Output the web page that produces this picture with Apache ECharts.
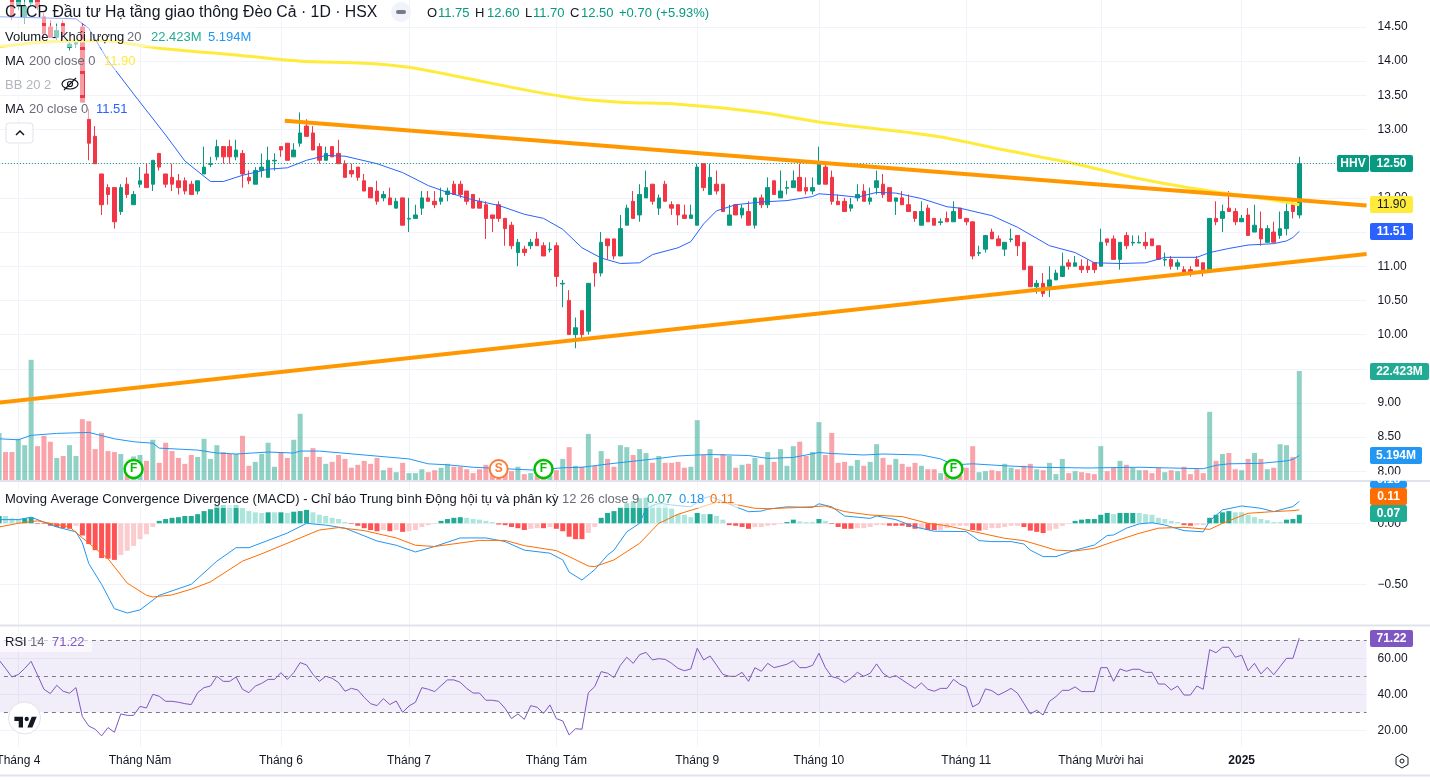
<!DOCTYPE html>
<html><head><meta charset="utf-8">
<style>html,body{margin:0;padding:0;background:#fff}#c{width:1430px;height:780px}</style>
<script src="https://cdn.jsdelivr.net/npm/echarts@6/dist/echarts.min.js"></script>
</head><body><div id="c"></div>
<script>
const opens=[14.95,15.05,15.0,14.8,14.65,14.85,15.0,14.65,14.5,14.35,14.55,14.2,14.25,14.5,13.15,12.9,12.35,12.15,12.15,11.8,12.2,11.9,12.2,12.35,12.2,12.65,12.35,12.3,12.25,12.25,12.2,12.1,12.35,12.49,12.6,12.75,12.75,12.6,12.65,12.3,12.2,12.4,12.3,12.54,12.75,12.8,12.6,12.8,13.05,12.95,12.75,12.55,12.75,12.65,12.5,12.4,12.45,12.25,12.15,12.1,12.0,12.0,11.85,12.0,11.69,11.7,11.85,12.0,11.95,11.95,12.05,12.2,12.2,12.1,12.05,11.95,11.9,11.75,11.9,11.7,11.6,11.2,11.25,11.3,11.4,11.3,11.24,11.3,10.74,10.5,10.0,10.35,10.05,11.05,10.9,11.4,11.4,11.15,11.6,11.95,11.75,12.0,12.2,11.85,12.2,11.9,11.9,11.75,11.7,11.6,12.5,12.05,12.2,12.2,11.6,11.9,11.75,11.8,11.6,12.0,11.9,12.25,12.0,12.14,12.15,12.3,12.15,12.1,12.2,12.45,12.3,11.95,11.95,11.85,12.0,12.1,11.95,12.15,12.2,12.15,11.95,12.0,11.9,11.8,11.6,11.85,11.7,11.64,11.7,11.65,11.85,11.7,11.65,11.19,11.25,11.5,11.4,11.25,11.39,11.45,11.35,11.0,10.7,10.75,10.7,10.8,10.85,11.05,11.0,11.0,11.0,11.05,11.0,11.4,11.4,11.1,11.45,11.34,11.34,11.35,11.4,11.3,11.09,11.1,11.0,10.95,10.95,11.1,11.05,10.95,11.7,11.7,11.85,11.8,11.65,11.75,11.5,11.55,11.35,11.5,11.45,11.55,11.9,11.75];
const closes=[15.05,14.95,14.65,14.9,14.8,15.0,14.8,14.4,14.35,14.45,14.4,14.25,14.3,13.4,12.8,12.5,11.9,12.05,11.65,12.15,12.05,12.05,12.25,12.15,12.55,12.45,12.2,12.2,12.15,12.1,12.05,12.25,12.45,12.5,12.75,12.6,12.6,12.7,12.35,12.25,12.4,12.45,12.55,12.55,12.7,12.55,12.7,12.95,12.9,12.7,12.55,12.65,12.6,12.5,12.3,12.35,12.3,12.1,12.0,11.95,12.05,11.9,11.95,11.6,11.7,11.75,12.0,11.95,11.9,12.0,12.1,12.05,12.05,11.95,11.85,11.85,11.7,11.7,11.7,11.55,11.3,11.35,11.2,11.35,11.3,11.15,11.25,10.85,10.75,10.0,10.1,10.0,10.75,10.9,11.35,11.3,11.15,11.55,11.85,11.7,12.05,12.15,11.95,12.0,11.95,11.85,11.75,11.7,11.75,12.45,12.15,12.3,12.1,11.8,11.75,11.75,11.85,11.6,12.0,11.9,12.15,12.05,12.1,12.15,12.25,12.1,12.1,12.15,12.5,12.2,11.95,11.9,11.8,11.9,12.05,11.95,12.0,12.25,12.05,11.95,12.0,11.9,11.8,11.7,11.8,11.65,11.6,11.65,11.65,11.8,11.7,11.65,11.15,11.2,11.45,11.4,11.3,11.35,11.4,11.3,10.95,10.7,10.75,10.6,10.8,10.9,11.0,11.0,11.05,10.95,10.95,10.95,11.35,11.35,11.1,11.35,11.3,11.35,11.35,11.3,11.3,11.1,11.1,11.0,11.05,10.9,10.9,11.0,10.95,11.7,11.65,11.8,11.8,11.65,11.7,11.45,11.6,11.4,11.55,11.35,11.55,11.8,11.8,12.5];
const highs=[15.1,15.1,15.05,15.0,15.0,15.05,15.05,14.7,14.6,14.55,14.6,14.3,14.3,14.55,13.3,13.05,12.35,12.2,12.15,12.2,12.3,12.1,12.45,12.5,12.55,12.65,12.35,12.5,12.35,12.3,12.25,12.25,12.75,12.6,12.85,12.75,12.85,12.85,12.7,12.4,12.45,12.65,12.75,12.65,12.75,12.8,12.8,13.25,13.15,13.05,12.8,12.75,12.75,12.85,12.55,12.5,12.45,12.35,12.15,12.25,12.1,12.15,12.0,12.0,12.0,11.9,12.1,12.1,12.1,12.15,12.15,12.25,12.25,12.1,12.05,12.0,11.95,11.75,11.95,11.7,11.65,11.4,11.3,11.4,11.5,11.35,11.35,11.35,10.8,10.65,10.25,10.35,10.75,11.05,11.5,11.4,11.4,11.75,11.9,12.1,12.2,12.4,12.2,12.05,12.25,11.95,11.9,11.9,11.9,12.5,12.5,12.5,12.4,12.2,11.9,11.9,11.9,11.95,12.0,12.05,12.3,12.25,12.4,12.25,12.4,12.5,12.3,12.3,12.75,12.5,12.4,12.05,12.0,12.0,12.2,12.2,12.15,12.4,12.35,12.15,12.0,12.1,12.05,11.8,11.95,11.9,11.7,11.7,11.8,11.95,11.85,11.7,11.65,11.3,11.45,11.55,11.45,11.35,11.55,11.45,11.35,11.0,10.8,10.9,11.0,10.95,11.2,11.1,11.15,11.1,11.1,11.05,11.55,11.4,11.45,11.35,11.5,11.45,11.45,11.5,11.4,11.3,11.2,11.15,11.1,11.0,11.0,11.15,11.05,11.7,11.95,11.9,12.1,11.85,11.75,11.85,11.9,11.8,11.6,11.65,11.8,11.95,11.95,12.6];
const lows=[14.9,14.9,14.6,14.75,14.55,14.8,14.75,14.35,14.35,14.3,14.3,14.15,14.2,13.4,12.55,12.5,11.75,11.9,11.55,11.75,12.0,11.9,12.15,12.15,12.1,12.4,12.15,12.1,12.05,12.05,12.05,12.05,12.35,12.45,12.55,12.5,12.5,12.55,12.15,12.2,12.2,12.3,12.3,12.4,12.6,12.55,12.6,12.75,12.9,12.7,12.5,12.55,12.6,12.5,12.3,12.3,12.25,12.1,12.0,11.9,11.95,11.9,11.85,11.6,11.5,11.7,11.75,11.95,11.85,11.9,11.95,12.05,12.0,11.9,11.85,11.85,11.4,11.5,11.65,11.3,11.25,11.0,11.15,11.25,11.3,11.15,11.2,10.7,10.4,10.0,9.8,9.95,10.0,10.7,10.85,11.1,11.1,11.15,11.6,11.7,11.65,12.0,11.9,11.75,11.95,11.75,11.6,11.7,11.7,11.6,12.1,12.05,12.05,11.8,11.6,11.75,11.7,11.6,11.55,11.85,11.85,12.05,12.0,12.05,12.15,12.1,12.05,12.05,12.2,12.2,11.9,11.9,11.8,11.8,11.95,11.95,11.9,12.05,12.0,11.95,11.75,11.9,11.8,11.65,11.6,11.65,11.6,11.6,11.65,11.65,11.7,11.6,11.1,11.15,11.2,11.4,11.3,11.15,11.35,11.15,10.95,10.7,10.6,10.55,10.55,10.8,10.85,10.95,11.0,10.9,10.9,10.9,11.0,11.3,11.1,10.95,11.25,11.3,11.35,11.25,11.3,11.1,11.0,10.95,10.95,10.9,10.85,11.0,10.85,10.95,11.6,11.5,11.8,11.6,11.65,11.45,11.5,11.3,11.35,11.35,11.4,11.45,11.7,11.7];
const volumes=[9.8,5.9,5.9,8.6,7.3,24.7,7.1,9.2,8.0,4.7,5.1,7.3,5.1,12.6,12.2,6.5,9.8,6.1,5.9,5.5,2.6,5.0,5.3,4.1,8.4,3.7,7.8,6.1,4.7,3.5,5.3,4.9,8.6,4.5,7.3,5.9,5.5,5.5,9.2,3.1,3.9,5.5,7.8,2.9,5.9,4.7,8.4,13.7,4.9,6.7,4.9,3.5,3.9,5.3,4.5,2.7,3.3,4.1,3.5,4.7,2.2,2.7,1.8,3.7,1.6,1.6,2.4,1.8,2.2,2.7,3.5,2.9,2.9,2.4,1.6,2.4,3.3,2.2,1.9,2.2,2.0,2.9,1.4,1.6,1.2,1.2,1.2,2.2,4.5,6.9,3.1,2.9,9.6,3.1,6.1,4.5,2.9,7.3,6.9,5.3,6.5,5.7,3.7,5.1,3.7,3.7,3.9,2.7,2.9,12.4,5.3,6.5,4.7,5.5,5.1,2.7,3.3,3.5,4.7,3.3,5.9,3.9,6.5,3.1,7.1,8.0,5.1,5.9,12.0,5.3,9.8,3.7,3.9,3.1,4.3,3.1,3.9,7.5,4.7,3.3,4.5,3.5,2.9,3.7,3.1,2.4,2.4,1.6,2.4,1.2,1.2,2.7,7.1,1.8,2.0,2.2,2.0,3.5,2.7,2.4,3.1,3.5,2.4,2.2,3.7,1.4,4.5,1.6,2.0,1.8,1.6,1.4,7.1,2.0,2.7,4.1,3.3,2.7,2.2,2.2,1.6,2.7,1.8,2.2,2.0,2.9,1.4,2.4,1.6,14.1,4.1,5.5,5.7,2.4,2.2,4.5,5.7,4.5,2.4,2.7,7.5,7.3,4.9,22.423];
const hist=[.06,.06,.04,.035,.04,.05,-.005,-.005,-.02,-.03,-.04,-.045,-.02,-.10,-.17,-.22,-.285,-.29,-.30,-.26,-.225,-.185,-.13,-.09,-.03,.02,.035,.045,.05,.06,.06,.075,.10,.115,.145,.15,.15,.15,.125,.10,.09,.085,.09,.09,.09,.085,.095,.10,.11,.09,.07,.06,.045,.035,.01,-.005,-.02,-.04,-.055,-.065,-.055,-.065,-.055,-.07,-.065,-.055,-.03,-.015,-.005,.02,.035,.045,.05,.045,.035,.03,.02,.01,-.01,-.015,-.03,-.04,-.055,-.045,-.04,-.04,-.03,-.045,-.065,-.11,-.13,-.13,-.08,-.03,.045,.085,.10,.13,.165,.18,.205,.21,.16,.16,.15,.12,.075,.07,.05,.085,.075,.075,.06,.03,-.015,-.02,-.03,-.045,-.03,-.03,-.02,-.015,-.005,.01,.03,.015,.01,.01,.035,.02,-.005,-.03,-.045,-.045,-.04,-.04,-.03,-.015,-.015,-.02,-.02,-.02,-.03,-.045,-.045,-.055,-.055,-.055,-.04,-.02,-.02,-.02,-.055,-.06,-.055,-.04,-.04,-.03,-.02,-.02,-.03,-.06,-.07,-.08,-.06,-.045,-.02,-.005,.02,.03,.035,.035,.07,.085,.075,.085,.085,.085,.085,.075,.07,.045,.035,.02,.01,-.015,-.02,-.015,-.015,.045,.07,.09,.10,.09,.09,.07,.05,.035,.025,.01,.01,.03,.035,.07];
const histLightRuns=[[1,3],[12,12],[19,24],[36,36],[38,41],[43,43],[45,45],[49,54],[60,60],[62,62],[64,68],[73,77],[83,84],[86,86],[92,93],[102,108],[110,110],[112,113],[118,122],[125,127],[129,129],[134,138],[144,144],[147,151],[154,159],[164,167],[174,174],[178,184],[187,188],[193,200]];
const rsi=[59,54.4,49.6,51,54.4,58.3,50.7,42.8,40.4,45,41.7,40.6,43.7,27.6,22.4,20.6,16.9,21.5,18.9,29.1,28.3,28.3,33.3,32.4,40,38.9,36.1,36.1,35.6,34.8,34.3,40.9,43.7,44.6,50,47.2,47.2,49.6,42.8,40.9,44.6,46.1,48.3,48.3,52,48.3,52,57.6,56.3,51.1,47.2,50,48.9,46.5,41.7,43.3,42.4,38.3,34.8,33.7,37.6,34.3,36.3,30,33.5,35.6,43.7,42.8,41.5,44.8,48,48,46.7,43.3,40.7,40.7,36.7,36.7,36.1,32.2,26.5,29.1,26.1,33.7,32.8,29.4,34.1,26.5,25.2,17.4,20.9,20.6,40.9,44.3,52.6,51.7,49.3,56.1,60.6,57.2,62,63.3,59.1,59.8,59.4,57.2,54.4,53.1,54.1,65.6,59.1,61.3,56.3,51.1,50,50,52.2,47.2,54.8,52.8,57.2,54.8,55.7,56.7,58.7,54.8,54.8,56.1,62.8,54.8,49.8,48.9,46.5,48.9,52.2,50,51.7,56.9,51.7,49.3,50.4,48,45.6,43.3,46.3,42.8,41.7,43.3,43.3,48.3,45.6,43.9,33,35,43,42,39.6,41.3,43.3,40.6,35,29.1,31.1,28.5,36.1,38.7,42.2,42.2,44.1,41.5,41.5,41.5,54.8,54.8,47.2,54.1,52.8,53.9,53.9,52.2,52.2,45.7,45.7,42.4,44.6,39.6,39.6,44.6,42.8,64.8,63.1,66.1,66.1,60.6,61.7,53.1,57.2,51.3,55,50.9,55.4,60,60,71.22];
const ma200=[[0,14.21],[7,14.28],[16,14.30],[25,14.19],[37,14.09],[47,14.0],[57,13.97],[64,13.91],[73,13.75],[81,13.60],[89,13.47],[97,13.40],[106,13.37],[119,13.25],[128,13.11],[139,12.99],[147,12.89],[157,12.70],[168,12.50],[178,12.28],[189,12.10],[199,11.97],[203,11.90]];
const ma20=[[0,14.65],[12,14.62],[14,14.48],[17,14.01],[21,13.52],[26,12.92],[29,12.54],[33,12.24],[35,12.24],[38,12.33],[42,12.42],[45,12.44],[48,12.55],[51,12.62],[54,12.61],[59,12.5],[63,12.37],[67,12.18],[70,12.08],[74,11.97],[78,11.89],[82,11.76],[85,11.70],[88,11.54],[91,11.27],[94,11.12],[97,11.04],[100,11.05],[102,11.17],[106,11.27],[108,11.36],[110,11.62],[112,11.81],[115,11.90],[119,11.94],[123,11.96],[127,12.02],[128,12.06],[131,12.04],[134,12.01],[137,12.08],[140,12.07],[144,11.99],[148,11.87],[150,11.85],[155,11.74],[159,11.57],[164,11.30],[168,11.2],[171,11.05],[175,11.04],[179,11.05],[182,11.13],[187,11.13],[189,11.2],[192,11.26],[195,11.31],[199,11.33],[201,11.37],[202,11.42],[203,11.51]];
const volMa=[[0,8.6],[3,8.4],[5,9.3],[9,9.7],[14,9.9],[18,8.6],[21,8.0],[24,7.7],[25,6.7],[31,6.3],[34,5.7],[37,5.5],[42,5.9],[46,5.7],[47,6.1],[50,6.1],[57,5.3],[64,4.5],[67,3.5],[70,3.3],[74,2.8],[84,2.2],[88,2.7],[91,2.8],[96,3.6],[103,4.6],[106,5.1],[109,5.3],[111,5.4],[117,5.2],[120,4.6],[124,4.8],[128,5.8],[130,5.6],[135,5.3],[138,5.5],[144,5.3],[147,4.5],[149,3.3],[152,3.5],[157,3.1],[162,2.8],[170,2.65],[178,2.8],[188,2.5],[190,3.2],[192,3.5],[197,3.6],[201,4.1],[202,4.4],[203,5.194]];
const macdLine=[[0,.03],[3,.03],[5,.05],[7,.01],[9,-.03],[12,-.07],[13,-.16],[14,-.33],[16,-.5],[17,-.6],[18,-.70],[20,-.735],[22,-.71],[25,-.59],[30,-.5],[34,-.31],[37,-.2],[39,-.2],[44,-.1],[45,-.08],[48,0],[51,-.015],[54,-.04],[59,-.145],[62,-.18],[65,-.235],[68,-.19],[72,-.12],[76,-.12],[79,-.15],[82,-.22],[86,-.245],[88,-.30],[89,-.40],[91,-.465],[93,-.38],[95,-.26],[96,-.22],[98,-.07],[100,0],[101,.12],[103,.165],[105,.15],[108,.135],[110,.205],[111,.22],[113,.18],[115,.135],[117,.095],[119,.10],[120,.115],[123,.135],[127,.13],[128,.16],[130,.135],[132,.06],[136,.04],[137,.06],[140,.03],[143,-.03],[146,-.065],[151,-.068],[153,-.142],[155,-.15],[158,-.15],[160,-.17],[161,-.22],[163,-.273],[165,-.273],[168,-.22],[171,-.178],[173,-.10],[174,-.096],[176,-.04],[178,-.005],[180,.005],[182,-.014],[185,-.06],[188,-.07],[189,.02],[191,.11],[194,.142],[197,.123],[199,.096],[202,.137],[203,.18]];
const signalLine=[[0,-.03],[3,0],[6,.02],[11,-.03],[13,-.12],[17,-.29],[20,-.49],[23,-.59],[24,-.604],[27,-.587],[30,-.54],[33,-.48],[38,-.31],[41,-.25],[47,-.12],[50,-.055],[53,-.035],[57,-.06],[62,-.12],[65,-.18],[68,-.19],[75,-.14],[79,-.14],[82,-.183],[87,-.224],[89,-.273],[92,-.35],[93,-.355],[96,-.30],[100,-.164],[103,0],[106,.074],[109,.123],[112,.172],[114,.164],[118,.123],[120,.12],[125,.13],[129,.142],[132,.096],[136,.068],[141,.055],[145,0],[148,-.02],[151,-.055],[157,-.123],[160,-.142],[165,-.22],[168,-.227],[171,-.205],[174,-.15],[178,-.082],[181,-.04],[185,-.033],[189,-.05],[191,0],[195,.082],[199,.096],[202,.104],[203,.11]];
const trendUpper=[[44.6,13.13],[213.5,11.89]];
const trendLower=[[-0.5,9.0],[213.5,11.18]];
const flags=[[21,'F'],[78,'S'],[85,'F'],[149,'F']];
const monthTicks=[[3,'Tháng 4'],[22,'Tháng Năm'],[44,'Tháng 6'],[64,'Tháng 7'],[87,'Tháng Tám'],[109,'Tháng 9'],[128,'Tháng 10'],[151,'Tháng 11'],[172,'Tháng Mười hai'],[194,'2025']];
const priceTicks=[8,8.5,9,9.5,10,10.5,11,11.5,12,12.5,13,13.5,14,14.5];
const macdTicks=[-.5,0];
const rsiTicks=[20,40,60];
const categories=opens.map((_,i)=>String(i)).concat(Array.from({length:10},(_,i)=>'+'+(i+1)));
const UP='#089981',DOWN='#f23645',FONT='"Liberation Sans",Arial,sans-serif',GRID='#f0f3fa',TXT='#131722',GRAY='#6a6d78';
const L=-4.1,W=1370.67;
const monthVals=monthTicks.map(m=>m[0]);
const monthMap=Object.fromEntries(monthTicks);
const isLight=i=>histLightRuns.some(r=>i>=r[0]&&i<=r[1]);
function catAxis(g){return {type:'category',gridIndex:g,data:categories,show:false};}
function valAxis(g,labels){return {type:'value',gridIndex:g,min:-0.5,max:213.5,axisLine:{show:false},
  axisTick:{show:false,customValues:monthVals},splitLine:{show:true,lineStyle:{color:GRID,width:1}},
  axisLabel:labels?{show:true,customValues:monthVals,margin:8,color:TXT,fontFamily:FONT,fontSize:12,hideOverlap:false,
    formatter:v=>monthMap[v]==='2025'?'{b|2025}':monthMap[v],rich:{b:{fontWeight:'bold',fontFamily:FONT,fontSize:12,color:TXT}}}:{show:false}};}
function yAx(g,min,max,ticks,fmt){return {type:'value',gridIndex:g,position:'right',min,max,scale:true,axisLine:{show:false},
  axisTick:{show:false,customValues:ticks},splitLine:{show:true,lineStyle:{color:GRID,width:1}},
  axisLabel:{show:true,customValues:ticks,inside:false,margin:11,color:TXT,fontFamily:FONT,fontSize:12,formatter:fmt}};}
const f2=v=>{const s=Math.abs(v).toFixed(2);return v<0?'−'+s:s;};
const G=(top,height)=>({left:L,width:W,top,height,outerBoundsMode:'none',containLabel:false});
const option={animation:false,backgroundColor:'#fff',
 grid:[G(0,481),G(0,481),G(482,143),G(626,121)],
 xAxis:[catAxis(0),valAxis(0,false),catAxis(1),{type:'value',gridIndex:1,min:-0.5,max:213.5,show:false},catAxis(2),valAxis(2,false),valAxis(3,true)],
 yAxis:[yAx(0,14.5+(27-481)/68.35,14.5+27/68.35,priceTicks,f2),
        {type:'value',gridIndex:1,min:0,max:98.03,show:false},
        yAx(2,-(625-523.3)/122,(523.3-482)/122,macdTicks,f2),
        yAx(3,70-(747-640.3)/1.8,70+(640.3-626)/1.8,rsiTicks,f2)],
 series:[
  {type:'bar',name:'vol',xAxisIndex:2,yAxisIndex:1,barWidth:5,z:1,data:volumes,
   itemStyle:{color:p=>closes[p.dataIndex]>=opens[p.dataIndex]?'rgba(8,153,129,0.45)':'rgba(242,54,69,0.45)'}},
  {type:'line',name:'volMa',xAxisIndex:3,yAxisIndex:1,data:volMa,showSymbol:false,z:3,lineStyle:{color:'#2196f3',width:1}},
  {type:'candlestick',name:'price',xAxisIndex:0,yAxisIndex:0,barWidth:4,z:2,
   data:opens.map((o,i)=>[o,closes[i],lows[i],highs[i]]),
   itemStyle:{color:UP,color0:DOWN,borderColor:UP,borderColor0:DOWN,borderWidth:1},
   markLine:{silent:true,symbol:'none',label:{show:false},animation:false,lineStyle:{color:UP,type:[1,2],width:1},data:[{yAxis:closes[closes.length-1]}]}},
  {type:'line',name:'ma200',xAxisIndex:1,yAxisIndex:0,data:ma200,showSymbol:false,smooth:0.3,z:4,lineStyle:{color:'#ffeb3b',width:3}},
  {type:'line',name:'ma20',xAxisIndex:1,yAxisIndex:0,data:ma20,showSymbol:false,z:4,lineStyle:{color:'#2962ff',width:1}},
  {type:'line',name:'trendUpper',xAxisIndex:1,yAxisIndex:0,data:trendUpper,showSymbol:false,z:5,lineStyle:{color:'#ff9800',width:4}},
  {type:'line',name:'trendLower',xAxisIndex:1,yAxisIndex:0,data:trendLower,showSymbol:false,z:5,lineStyle:{color:'#ff9800',width:4}},
  {type:'scatter',name:'flags',xAxisIndex:3,yAxisIndex:1,z:6,symbolSize:18,
   data:flags.map(f=>({value:[f[0],2.45],name:f[1],
     itemStyle:{color:'#fff',borderColor:f[1]==='F'?'#00c000':'#ff7a33',borderWidth:f[1]==='F'?2.5:2,opacity:1},
     label:{show:true,formatter:f[1],position:'inside',color:f[1]==='F'?'#00c000':'#ff7a33',fontFamily:FONT,fontSize:12,fontWeight:'bold'}}))},
  {type:'bar',name:'hist',xAxisIndex:4,yAxisIndex:2,barWidth:5,z:1,data:hist,
   itemStyle:{color:p=>{const i=p.dataIndex,v=hist[i],l=isLight(i);return v>=0?(l?'#ace5dc':'#22ab94'):(l?'#fccbcd':'#ff5252');}}},
  {type:'line',name:'macd',xAxisIndex:5,yAxisIndex:2,data:macdLine,showSymbol:false,z:3,lineStyle:{color:'#2196f3',width:1}},
  {type:'line',name:'signal',xAxisIndex:5,yAxisIndex:2,data:signalLine,showSymbol:false,z:3,lineStyle:{color:'#ff6d00',width:1}},
  {type:'line',name:'rsi',xAxisIndex:6,yAxisIndex:3,data:rsi.map((v,i)=>[i,v]),showSymbol:false,z:3,lineStyle:{color:'#7e57c2',width:1},
   markArea:{silent:true,itemStyle:{color:'rgba(126,87,194,0.1)'},data:[[{yAxis:70},{yAxis:30}]]},
   markLine:{silent:true,symbol:'none',label:{show:false},lineStyle:{color:'#787b86',type:[4,4],width:1},data:[{yAxis:70},{yAxis:50},{yAxis:30}]}}
 ]};
const chart=echarts.init(document.getElementById('c'),null,{renderer:'canvas'});
chart.setOption(option);
const py=(axis,v)=>chart.convertToPixel({yAxisIndex:axis},v);
const Z=100;
function T(x,y,text,fill,size,weight,align){return {type:'text',z:Z+2,x,y:y+1,style:{text,fill,font:(weight||'normal')+' '+(size||13)+'px '+FONT,verticalAlign:'middle',align:align||'left'}};}
function R(x,y,w,h,fill,r,stroke){return {type:'rect',z:Z,shape:{x,y,width:w,height:h,r:r||0},style:{fill:fill,stroke:stroke||null,lineWidth:1}};}
function tag(x,w,cy,text,bg,fg,clipTop){const top=Math.round(cy-8.5),t=clipTop?Math.max(top,clipTop):top;
 return [Object.assign(R(x,t,w,top+17-t,bg,2),{z:Z+4}),Object.assign(T(x+w/2,cy-1,text,fg||'#fff',12,fg?'normal':'bold','center'),{z:Z+5})];}
const els=[
 R(0,2,385,21,'rgba(255,255,255,0.5)'),R(0,26,256,21,'rgba(255,255,255,0.5)'),R(0,50,138,21,'rgba(255,255,255,0.5)'),R(0,74,84,21,'rgba(255,255,255,0.5)'),R(0,98,130,21,'rgba(255,255,255,0.5)'),
 R(0,489,738,19,'rgba(255,255,255,0.6)'),R(0,632,92,20,'rgba(255,255,255,0.6)'),
 T(5,12,'CTCP Đầu tư Hạ tầng giao thông Đèo Cả · 1D · HSX',TXT,15.8),
 {type:'circle',z:Z,shape:{cx:401,cy:12,r:10},style:{fill:'#f0f3fa'}},
 Object.assign(R(396,10,10,4,'#787b86',2),{z:Z+1}),
 T(427,12,'O',TXT),T(438,12,'11.75',UP),T(475,12,'H',TXT),T(487,12,'12.60',UP),T(525,12,'L',TXT),T(533,12,'11.70',UP),T(570,12,'C',TXT),T(581,12,'12.50',UP),T(619,12,'+0.70',UP),T(656,12,'(+5.93%)',UP),
 T(5,36,'Volume - Khối lượng',TXT),T(127,36,'20',GRAY),T(151,36,'22.423M','#22ab94'),T(208,36,'5.194M','#2196f3'),
 T(5,60,'MA',TXT),T(29,60,'200 close 0',GRAY),T(104,60,'11.90','#ffeb3b'),
 T(5,84,'BB 20 2','#b2b5be'),
 {type:'ellipse',z:Z+2,shape:{cx:70,cy:84,rx:8,ry:5},style:{fill:null,stroke:TXT,lineWidth:1.2}},
 {type:'circle',z:Z+2,shape:{cx:70,cy:84,r:2.5},style:{fill:null,stroke:TXT,lineWidth:1.2}},
 {type:'line',z:Z+2,shape:{x1:64,y1:90,x2:76,y2:78},style:{stroke:TXT,lineWidth:1.2}},
 T(5,108,'MA',TXT),T(29,108,'20 close 0',GRAY),T(96,108,'11.51','#2962ff'),
 R(6,123,27,20,'#fff',3,'#e0e3eb'),
 {type:'polyline',z:Z+2,shape:{points:[[16,135],[20,131],[24,135]]},style:{stroke:TXT,fill:null,lineWidth:1.5}},
 T(5,498,'Moving Average Convergence Divergence (MACD) - Chỉ báo Trung bình Động hội tụ và phân kỳ',TXT),
 T(562,498,'12 26 close 9',GRAY),T(647,498,'0.07','#22ab94'),T(679,498,'0.18','#2196f3'),T(710,498,'0.11','#ff6d00'),
 T(5,641,'RSI',TXT),T(30,641,'14',GRAY),T(52,641,'71.22','#7e57c2'),
 {type:'line',z:Z+3,shape:{x1:0,y1:481,x2:1430,y2:481},style:{stroke:'#e0e3eb',lineWidth:2}},
 {type:'line',z:Z+3,shape:{x1:0,y1:625.5,x2:1430,y2:625.5},style:{stroke:'#e0e3eb',lineWidth:2}},
 {type:'line',z:Z+3,shape:{x1:0,y1:775.5,x2:1430,y2:775.5},style:{stroke:'#e0e3eb',lineWidth:2}},
 {type:'circle',z:Z,shape:{cx:24.5,cy:718,r:16},style:{fill:'#fff',stroke:'#e0e3eb',lineWidth:1}},
 {type:'polygon',z:Z+1,shape:{points:[[14.4,716.8],[23,716.8],[23,727.6],[18.7,727.6],[18.7,721.1],[14.4,721.1]]},style:{fill:TXT}},
 {type:'polygon',z:Z+1,shape:{points:[[32.4,727.6],[27.4,727.6],[31.7,716.8],[36.7,716.8]]},style:{fill:TXT}},
 {type:'circle',z:Z+1,shape:{cx:26.7,cy:719,r:2.15},style:{fill:TXT}},
 {type:'polygon',z:Z,shape:{points:[[1402,754],[1408,757.5],[1408,764.5],[1402,768],[1396,764.5],[1396,757.5]]},style:{fill:null,stroke:TXT,lineWidth:1}},
 {type:'circle',z:Z,shape:{cx:1402,cy:761,r:2},style:{fill:null,stroke:TXT,lineWidth:1}},
 Object.assign(R(1337,155,32,17,UP,2),{z:Z+4}),Object.assign(T(1353,162.5,'HHV','#fff',12,'bold','center'),{z:Z+5})
];
const tags=[
 [1370,43,py(0,12.5),'12.50',UP],
 [1370,43,py(0,11.9),'11.90','#ffeb3b',TXT],
 [1370,43,py(0,11.51),'11.51','#2962ff'],
 [1370,59,371.5,'22.423M','#22ab94'],
 [1370,52,455.5,'5.194M','#2196f3'],
 [1370,37,479.5,'0.18','#2196f3',null,481],
 [1370,37,496.5,'0.11','#ff6d00'],
 [1370,37,513.5,'0.07','#22ab94'],
 [1370,43,638.5,'71.22','#7e57c2']
];
tags.forEach(t=>els.push(...tag(t[0],t[1],t[2],t[3],t[4],t[5],t[6])));
chart.setOption({graphic:{elements:els}});
</script></body></html>
